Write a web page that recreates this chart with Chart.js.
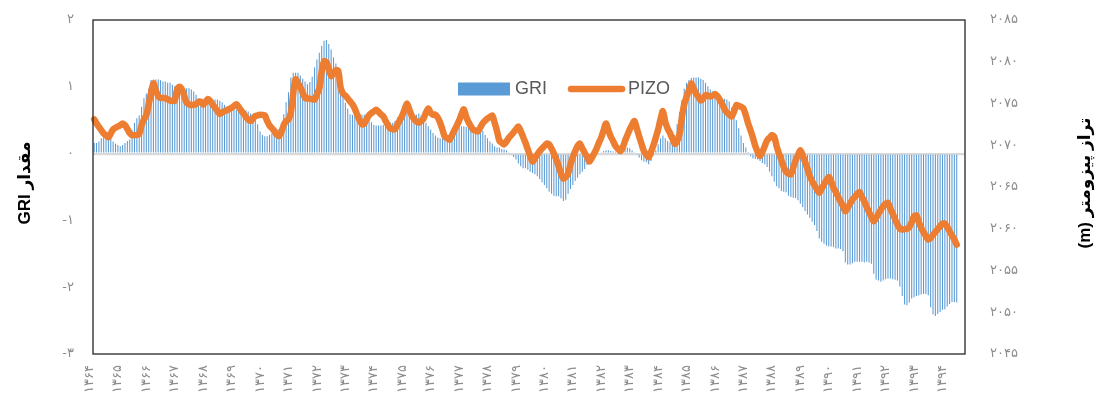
<!DOCTYPE html>
<html lang="fa" dir="ltr">
<head>
<meta charset="utf-8">
<script src="https://cdn.jsdelivr.net/npm/chart.js@4.4.1/dist/chart.umd.min.js"></script>
<style>
html,body{margin:0;padding:0;background:#fff;}
#wrap{width:1103px;height:417px;}
</style>
</head>
<body>
<div id="wrap"><canvas id="c" width="1103" height="417"></canvas></div>
<script>
// ---- data ----
const years = ['۱۳۶۴','۱۳۶۵','۱۳۶۶','۱۳۶۷','۱۳۶۸','۱۳۶۹','۱۳۷۰','۱۳۷۱','۱۳۷۲','۱۳۷۳','۱۳۷۴','۱۳۷۵','۱۳۷۶','۱۳۷۷','۱۳۷۸','۱۳۷۹','۱۳۸۰','۱۳۸۱','۱۳۸۲','۱۳۸۳','۱۳۸۴','۱۳۸۵','۱۳۸۶','۱۳۸۷','۱۳۸۸','۱۳۸۹','۱۳۹۰','۱۳۹۱','۱۳۹۲','۱۳۹۳','۱۳۹۴'];
const monthsPerYear = 12;
const axisSlots = 368;

const gri = [
0.16,0.16,0.18,0.23,0.26,0.26,0.23,0.23,0.18,0.15,0.13,0.11,
0.13,0.16,0.19,0.21,0.35,0.46,0.53,0.57,0.70,0.83,0.90,0.97,
1.10,1.11,1.11,1.11,1.10,1.08,1.08,1.06,1.06,1.03,1.01,1.01,
0.99,0.98,0.98,0.98,0.98,0.96,0.93,0.88,0.83,0.81,0.80,0.79,
0.76,0.76,0.77,0.81,0.81,0.79,0.77,0.73,0.70,0.67,0.66,0.66,
0.66,0.68,0.69,0.68,0.65,0.63,0.60,0.56,0.51,0.44,0.33,0.28,
0.26,0.26,0.28,0.30,0.31,0.31,0.37,0.46,0.59,0.77,0.92,1.14,
1.21,1.21,1.21,1.17,1.12,1.08,1.04,1.07,1.15,1.29,1.41,1.51,
1.61,1.69,1.70,1.64,1.56,1.44,1.35,1.21,1.08,0.91,0.76,0.67,
0.59,0.58,0.58,0.58,0.58,0.58,0.58,0.57,0.53,0.47,0.43,0.42,
0.42,0.42,0.43,0.45,0.46,0.46,0.46,0.49,0.54,0.58,0.60,0.61,
0.61,0.61,0.58,0.56,0.58,0.60,0.57,0.52,0.46,0.41,0.36,0.31,
0.27,0.24,0.23,0.23,0.23,0.25,0.28,0.32,0.35,0.39,0.41,0.41,
0.41,0.40,0.40,0.38,0.36,0.37,0.38,0.37,0.34,0.28,0.23,0.18,
0.15,0.11,0.09,0.09,0.07,0.06,0.05,0.02,-0.02,-0.05,-0.09,-0.15,
-0.19,-0.22,-0.22,-0.24,-0.27,-0.29,-0.31,-0.34,-0.38,-0.43,-0.47,-0.52,
-0.57,-0.60,-0.63,-0.64,-0.64,-0.67,-0.71,-0.69,-0.60,-0.53,-0.47,-0.41,
-0.36,-0.31,-0.27,-0.23,-0.17,-0.10,-0.05,-0.03,-0.02,0.00,0.02,0.04,
0.05,0.05,0.04,0.03,0.03,0.04,0.05,0.06,0.08,0.09,0.08,0.05,
0.02,-0.02,-0.06,-0.10,-0.12,-0.13,-0.16,-0.11,-0.03,0.05,0.14,0.23,
0.27,0.23,0.19,0.17,0.19,0.28,0.44,0.62,0.80,0.97,1.06,1.10,
1.13,1.14,1.14,1.14,1.12,1.10,1.06,1.01,0.96,0.93,0.89,0.86,
0.84,0.81,0.82,0.81,0.78,0.69,0.60,0.50,0.38,0.27,0.16,0.09,
0.01,-0.04,-0.07,-0.08,-0.09,-0.11,-0.14,-0.16,-0.20,-0.27,-0.34,-0.42,
-0.49,-0.52,-0.56,-0.57,-0.58,-0.63,-0.65,-0.66,-0.67,-0.70,-0.75,-0.80,
-0.86,-0.91,-0.96,-1.02,-1.07,-1.16,-1.27,-1.32,-1.35,-1.38,-1.39,-1.39,
-1.40,-1.42,-1.42,-1.43,-1.46,-1.63,-1.66,-1.66,-1.64,-1.62,-1.62,-1.62,
-1.62,-1.63,-1.62,-1.63,-1.65,-1.80,-1.89,-1.90,-1.92,-1.90,-1.88,-1.87,
-1.87,-1.88,-1.89,-1.90,-1.99,-2.13,-2.26,-2.27,-2.23,-2.17,-2.15,-2.13,
-2.12,-2.11,-2.10,-2.10,-2.12,-2.30,-2.41,-2.43,-2.40,-2.37,-2.34,-2.33,
-2.29,-2.25,-2.22,-2.22,-2.23
];

const pizo = [
2073.1,2072.6,2072.2,2071.8,2071.4,2071.2,2070.95,2071.4,2071.9,2072.1,2072.25,2072.4,
2072.6,2072.4,2071.95,2071.45,2071.2,2071.2,2071.25,2071.35,2072.4,2073.1,2073.6,2074.9,
2076.3,2077.4,2076.6,2075.9,2075.66,2075.66,2075.65,2075.5,2075.35,2075.34,2075.34,2076.7,
2077.0,2076.7,2075.9,2075.1,2074.9,2074.8,2074.85,2074.92,2075.2,2075.2,2074.86,2075.2,
2075.55,2075.3,2074.85,2074.5,2074.1,2073.76,2073.9,2074.1,2074.2,2074.35,2074.5,2074.7,
2074.92,2074.6,2074.15,2073.8,2073.4,2073.1,2072.9,2073.2,2073.5,2073.57,2073.66,2073.62,
2073.58,2072.9,2072.35,2072.05,2071.7,2071.3,2071.1,2071.6,2072.4,2072.9,2073.1,2073.9,
2076.2,2077.9,2077.45,2076.95,2076.3,2075.65,2075.6,2075.58,2075.5,2075.46,2076.1,2076.8,
2078.8,2080.05,2079.95,2079.1,2078.3,2078.6,2079.0,2078.9,2076.9,2076.2,2075.95,2075.6,
2075.25,2074.9,2074.35,2073.65,2073.0,2072.5,2072.6,2073.15,2073.6,2073.85,2074.05,2074.26,
2074.0,2073.7,2073.45,2072.9,2072.4,2072.0,2071.9,2071.95,2072.5,2073.0,2073.55,2074.3,
2075.0,2074.3,2073.55,2073.15,2072.85,2072.7,2072.9,2073.2,2073.9,2074.4,2073.9,2073.66,
2073.66,2073.3,2072.7,2071.85,2071.0,2070.85,2070.67,2071.2,2071.8,2072.35,2072.95,2073.7,
2074.3,2073.4,2072.75,2072.25,2071.85,2071.75,2071.67,2072.15,2072.64,2072.95,2073.22,2073.4,
2073.55,2072.7,2071.7,2070.55,2070.3,2070.1,2070.45,2070.9,2071.2,2071.55,2071.9,2072.25,
2071.7,2071.0,2070.3,2069.5,2068.7,2068.05,2068.45,2068.9,2069.3,2069.6,2069.9,2070.2,
2070.1,2069.6,2069.0,2068.3,2067.5,2066.6,2066.0,2066.2,2066.6,2067.7,2068.6,2069.3,
2069.9,2070.2,2069.6,2069.1,2068.6,2068.05,2068.5,2069.0,2069.6,2070.3,2070.95,2071.8,
2072.6,2071.8,2071.05,2070.5,2069.9,2069.6,2069.3,2069.7,2070.5,2071.2,2071.9,2072.45,
2072.9,2072.0,2071.05,2070.15,2069.3,2068.9,2068.56,2069.2,2070.0,2070.9,2071.9,2073.1,
2074.1,2072.8,2072.0,2071.45,2070.8,2070.15,2070.5,2071.3,2073.3,2074.9,2075.8,2076.6,
2077.4,2076.8,2076.2,2075.8,2075.35,2075.6,2076.0,2075.95,2075.85,2075.95,2076.15,2075.9,
2075.45,2074.95,2074.35,2073.9,2073.7,2073.45,2074.0,2074.8,2074.72,2074.6,2074.4,2073.6,
2072.6,2071.8,2070.9,2069.9,2069.2,2068.7,2069.2,2069.9,2070.6,2070.9,2071.2,2071.0,
2069.9,2069.0,2068.2,2067.4,2066.8,2066.6,2066.5,2067.3,2068.2,2068.8,2069.4,2068.8,
2068.0,2067.2,2066.3,2065.7,2065.2,2064.7,2064.3,2064.8,2065.3,2065.8,2066.2,2065.7,
2064.9,2064.4,2063.8,2063.25,2062.7,2062.1,2062.5,2063.0,2063.5,2063.8,2064.2,2064.4,
2063.8,2063.3,2062.6,2062.0,2061.4,2060.9,2061.3,2061.8,2062.3,2062.7,2063.0,2063.1,
2062.4,2061.8,2061.1,2060.5,2060.0,2059.9,2059.95,2060.0,2060.2,2060.8,2061.5,2061.6,
2060.8,2060.1,2059.6,2059.1,2058.7,2058.9,2059.3,2059.6,2059.95,2060.3,2060.6,2060.6,
2060.2,2059.7,2059.2,2058.7,2058.1
];

const seriesNames = ['GRI', 'PIZO'];
const leftTitle = 'مقدار GRI';
const rightTitle = 'تراز پیزومتر (m)';

// ---- helpers ----
const faDigits = '۰۱۲۳۴۵۶۷۸۹';
function fa(v) {
  const s = String(Math.abs(v)).replace(/\d/g, d => faDigits[+d]);
  return v < 0 ? '-' + s : s;
}
const labels = [];
for (let i = 0; i < axisSlots; i++) {
  labels.push(i % monthsPerYear === 0 && years[i / monthsPerYear] ? years[i / monthsPerYear] : '');
}

const tickFont = { family: "'DejaVu Sans', sans-serif", size: 13 };
const tickColor = '#8c8c8c';
const BLUE = '#5B9BD5', ORANGE = '#ED7D31';

function noPad(s) { s.paddingTop = 0; s.paddingBottom = 0; }

const decor = {
  id: 'decor',
  beforeDraw(chart) { chart.ctx.letterSpacing = '3px'; },
  afterDatasetsDraw(chart) { chart.ctx.letterSpacing = '0px'; },
  afterDraw(chart) {
    const ctx = chart.ctx, ca = chart.chartArea;
    ctx.save();
    ctx.letterSpacing = '0px';
    // plot frame
    ctx.strokeStyle = '#262626';
    ctx.lineWidth = 1.3;
    ctx.strokeRect(ca.left, ca.top, ca.right - ca.left, ca.bottom - ca.top);
    // legend (inside plot)
    const barDs = chart.data.datasets.find(d => d.type === 'bar');
    const lineDs = chart.data.datasets.find(d => d.type === 'line');
    ctx.font = "18px 'Liberation Sans', 'DejaVu Sans', sans-serif";
    ctx.textBaseline = 'middle';
    ctx.textAlign = 'left';
    ctx.fillStyle = barDs.backgroundColor;
    ctx.fillRect(458, 82.5, 52, 13);
    ctx.fillStyle = '#595959';
    ctx.fillText(barDs.label, 515, 89.5);
    ctx.strokeStyle = lineDs.borderColor;
    ctx.lineWidth = 6.5;
    ctx.lineCap = 'round';
    ctx.beginPath(); ctx.moveTo(571, 89); ctx.lineTo(622, 89); ctx.stroke();
    ctx.fillStyle = '#595959';
    ctx.fillText(lineDs.label, 628, 89.5);
    // axis titles (rotated, RTL)
    ctx.fillStyle = '#000';
    ctx.font = "bold 17px 'Liberation Sans', 'DejaVu Sans', sans-serif";
    const vtext = (t, x, y) => {
      ctx.save();
      ctx.translate(x, y);
      ctx.rotate(-Math.PI / 2);
      ctx.direction = 'rtl';
      ctx.textAlign = 'center';
      ctx.textBaseline = 'middle';
      ctx.fillText(t, 0, 0);
      ctx.restore();
    };
    vtext(leftTitle, 25, 183);
    vtext(rightTitle, 1085, 183);
    ctx.restore();
  }
};

new Chart(document.getElementById('c'), {
  data: {
    labels: labels,
    datasets: [
      {
        type: 'line', label: seriesNames[1], data: pizo, yAxisID: 'y1',
        borderColor: ORANGE, backgroundColor: ORANGE, borderWidth: 6.5,
        pointRadius: 0, tension: 0.3, borderJoinStyle: 'round', borderCapStyle: 'round',
        order: 1
      },
      {
        type: 'bar', label: seriesNames[0], data: gri, yAxisID: 'y',
        backgroundColor: BLUE, borderWidth: 0,
        barPercentage: 0.45, categoryPercentage: 1.0,
        order: 2
      }
    ]
  },
  options: {
    responsive: false,
    animation: false,
    devicePixelRatio: 1,
    layout: { padding: { top: 20, left: 0, right: 0, bottom: 0 } },
    plugins: { legend: { display: false }, tooltip: { enabled: false } },
    scales: {
      x: {
        type: 'category', offset: true,
        grid: { display: false, drawTicks: false },
        border: { display: false },
        ticks: {
          autoSkip: false, maxRotation: 90, minRotation: 90,
          padding: 11, labelOffset: -4.5,
          color: tickColor, font: tickFont
        },
        afterFit(s) { s.height = 63; s.paddingLeft = 0; s.paddingRight = 0; }
      },
      y: {
        position: 'left', min: -3, max: 2,
        ticks: { stepSize: 1, callback: v => fa(v), padding: 19, color: tickColor, font: tickFont },
        grid: {
          drawTicks: false,
          color: c => (c.tick && c.tick.value === 0 ? '#d9d9d9' : 'rgba(0,0,0,0)'),
          lineWidth: 2.2
        },
        border: { display: false },
        afterFit(s) { s.width = 93; noPad(s); }
      },
      y1: {
        position: 'right', min: 2045, max: 2085,
        ticks: { stepSize: 5, callback: v => fa(v), padding: 25, color: tickColor, font: tickFont },
        grid: { display: false, drawTicks: false },
        border: { display: false },
        afterFit(s) { s.width = 138; noPad(s); }
      }
    }
  },
  plugins: [decor]
});
</script>
</body>
</html>
